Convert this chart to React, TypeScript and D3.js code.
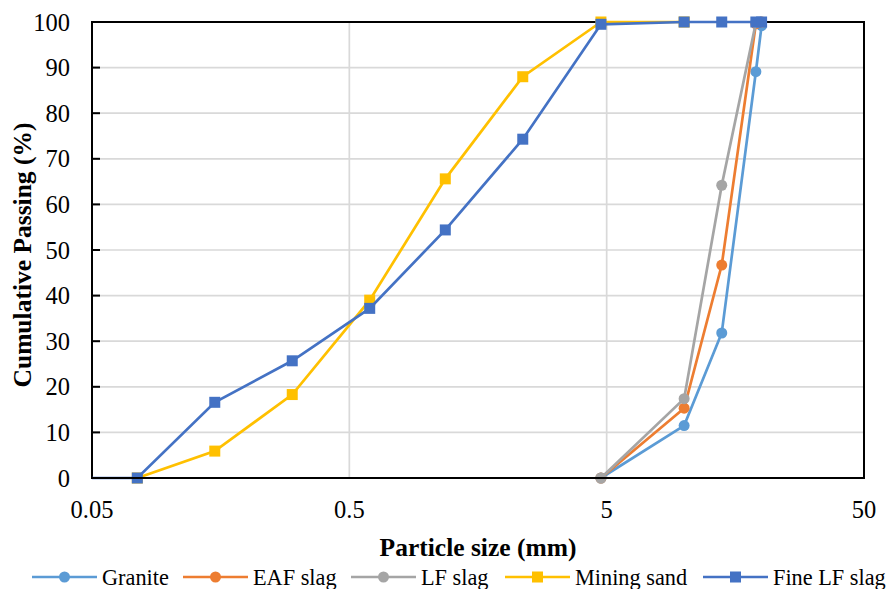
import * as d3 from 'd3'
import React from 'react'

// sieve sizes (mm)
const fineSizes = [0.01, 0.075, 0.15, 0.3, 0.6, 1.18, 2.36, 4.75, 10, 14, 19, 20]
const sandSizes = [0.075, 0.15, 0.3, 0.6, 1.18, 2.36, 4.75, 10]
const coarseSizes = [4.75, 10, 14, 19, 20]

// cumulative passing (%)
const granite = [0, 11.5, 31.8, 89.1, 99.2]
const eafSlag = [0, 15.3, 46.7, 99.6, 100]
const lfSlag = [0, 17.4, 64.2, 99.8, 100]
const miningSand = [0, 5.9, 18.3, 39.0, 65.6, 88.0, 100, 100]
const fineLfSlag = [0, 0, 16.6, 25.7, 37.2, 54.4, 74.3, 99.5, 100, 100, 100, 100]

const xTicks = [0.05, 0.5, 5, 50]
const yTicks = [0, 10, 20, 30, 40, 50, 60, 70, 80, 90, 100]

const series = [
  { name: 'Granite', sizes: coarseSizes, values: granite, color: '#5B9BD5', shape: 'circle' },
  { name: 'EAF slag', sizes: coarseSizes, values: eafSlag, color: '#ED7D31', shape: 'circle' },
  { name: 'LF slag', sizes: coarseSizes, values: lfSlag, color: '#A5A5A5', shape: 'circle' },
  { name: 'Mining sand', sizes: sandSizes, values: miningSand, color: '#FFC000', shape: 'square' },
  { name: 'Fine LF slag', sizes: fineSizes, values: fineLfSlag, color: '#4472C4', shape: 'square' },
]

// left end of each legend line
const legendX = [32, 183, 351, 505, 703]

export default function App() {
  const width = 892
  const height = 589
  const left = 92
  const right = 864
  const top = 22
  const bottom = 478

  const x = d3.scaleLog().domain([0.05, 50]).range([left, right])
  const y = d3.scaleLinear().domain([0, 100]).range([bottom, top])
  const line = d3.line<[number, number]>().x(d => x(d[0])).y(d => y(d[1]))
  const font = "'Liberation Serif', 'Times New Roman', serif"

  const marker = (shape: string, cx: number, cy: number, color: string, key: string | number) =>
    shape === 'circle' ? (
      <circle key={key} cx={cx} cy={cy} r={5.5} fill={color} />
    ) : (
      <rect key={key} x={cx - 5.5} y={cy - 5.5} width={11} height={11} fill={color} />
    )

  return (
    <svg
      width={width}
      height={height}
      style={{ position: 'absolute', left: 0, top: 0, fontFamily: font }}
    >
      <rect width={width} height={height} fill="white" />
      <defs>
        <clipPath id="plot">
          <rect x={left} y={top - 8} width={right - left + 8} height={bottom - top + 16} />
        </clipPath>
      </defs>
      {/* gridlines */}
      {yTicks.map(t => (
        <line key={'gy' + t} x1={left} x2={right} y1={y(t)} y2={y(t)} stroke="#d9d9d9" strokeWidth={1.7} />
      ))}
      {xTicks.map(t => (
        <line key={'gx' + t} x1={x(t)} x2={x(t)} y1={top} y2={bottom} stroke="#d9d9d9" strokeWidth={1.7} />
      ))}
      {/* border */}
      <rect x={left} y={top} width={right - left} height={bottom - top} fill="none" stroke="black" strokeWidth={2} />
      {/* y ticks */}
      {yTicks.map(t => (
        <g key={'ty' + t}>
          <line x1={left} x2={left + 8} y1={y(t)} y2={y(t)} stroke="black" strokeWidth={2} />
          <text x={70} y={y(t)} dy="0.35em" textAnchor="end" fontSize={24.5}>
            {t}
          </text>
        </g>
      ))}
      {xTicks.map(t => (
        <text key={'tx' + t} x={x(t)} y={518} textAnchor="middle" fontSize={24.5}>
          {t}
        </text>
      ))}
      {/* series */}
      <g clipPath="url(#plot)">
        {series.map(s => (
          <g key={s.name}>
            <path
              d={line(s.sizes.map((v, i) => [v, s.values[i]] as [number, number])) || ''}
              fill="none"
              stroke={s.color}
              strokeWidth={2.7}
            />
            {s.sizes.map((v, i) => marker(s.shape, x(v), y(s.values[i]), s.color, i))}
          </g>
        ))}
      </g>
      <rect x={left} y={bottom - 1} width={right - left} height={2} fill="black" />
      {/* axis titles */}
      <text
        transform={`translate(31,255) rotate(-90)`}
        textAnchor="middle"
        fontSize={25.5}
        fontWeight="bold"
      >
        Cumulative Passing (%)
      </text>
      <text x={478} y={556} textAnchor="middle" fontSize={25.5} fontWeight="bold">
        Particle size (mm)
      </text>
      {/* legend */}
      {series.map((s, i) => (
        <g key={'lg' + s.name} transform={`translate(${legendX[i]},577)`}>
          <line x1={0} x2={65} y1={0} y2={0} stroke={s.color} strokeWidth={2.7} />
          {marker(s.shape, 32.5, 0, s.color, 'm')}
          <text x={70} y={8} fontSize={22.3}>
            {s.name}
          </text>
        </g>
      ))}
    </svg>
  )
}
